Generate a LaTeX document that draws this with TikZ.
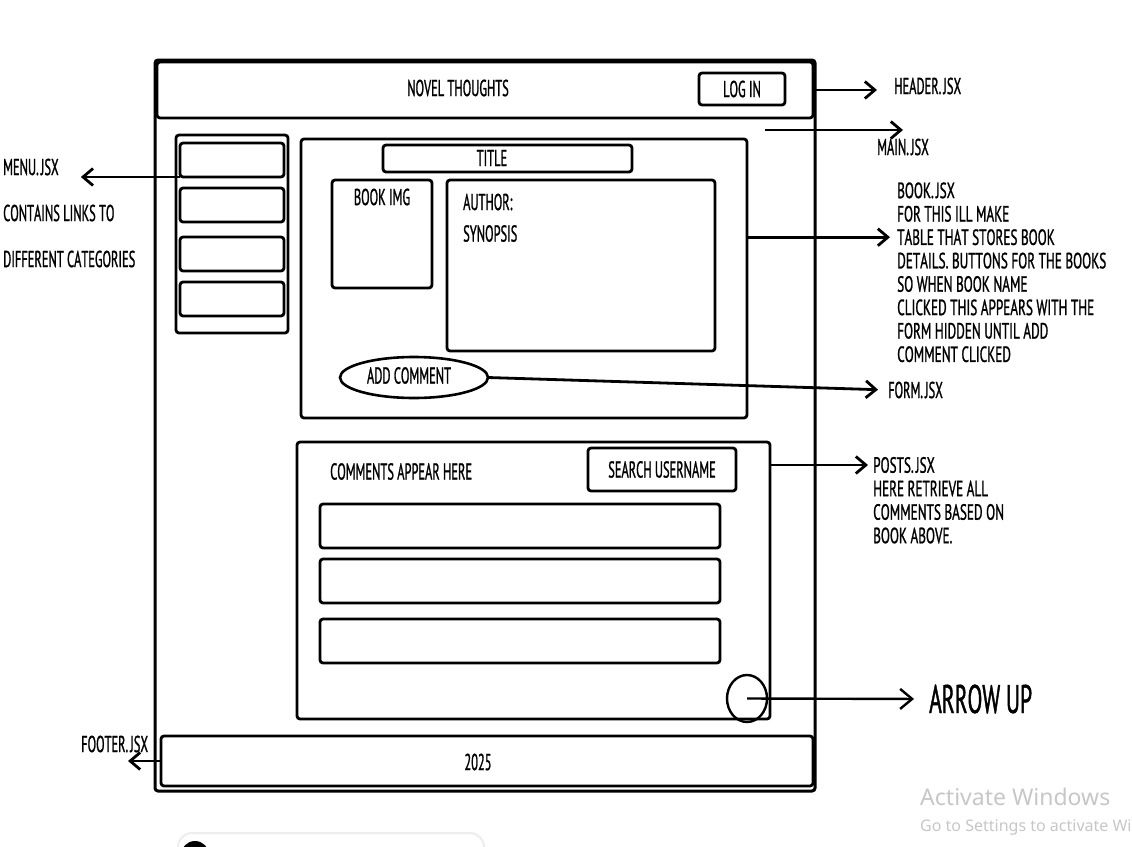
\documentclass[tikz,border=0pt]{standalone}
\usepackage{fontspec}
\newfontfamily\hand[FakeStretch=0.54,FakeBold=1,Kerning=Off]{PT Sans}
\newfontfamily\handw[FakeStretch=0.6,FakeBold=1,Kerning=Off]{PT Sans}
\newfontfamily\winfont{Noto Sans}
\usetikzlibrary{arrows.meta,shapes.geometric}
\tikzset{wh/.style 2 args={minimum width=#1,minimum height=#2}}
\newcommand{\jsx}[1]{#1.\kern2pt JSX}
\begin{document}
\begin{tikzpicture}[x=1pt,y=-1pt,
	box/.style={draw,line width=2.8pt,rounded corners=3pt,inner sep=0pt,outer sep=0pt},
	oval/.style={draw,ellipse,line width=2.6pt,inner sep=0pt,outer sep=0pt},
	txt/.style={font=\hand\fontsize{23}{26}\selectfont,inner sep=0pt},
	note/.style={font=\handw\fontsize{22}{25}\selectfont,inner sep=0pt,anchor=west},
	arr/.style={line width=2.8pt,-{Straight Barb[length=10pt,width=17pt]}}]
	\begin{scope}
	\clip (0,0) rectangle (1132,846);
	\fill[white] (0,0) rectangle (1132,846);
	\draw[black!7,line width=2pt,fill=white,rounded corners=14pt] (178,833) rectangle (484,880);
	\fill (195,855) circle (14);
	\node[font=\winfont\fontsize{23}{27}\selectfont,text=black!22,anchor=west,inner sep=0pt] (act) at (920,797) {Activate Windows};
	\node[font=\winfont\fontsize{16}{19}\selectfont,text=black!22,anchor=west,inner sep=0pt] (goto) at (920,827) {Go to Settings to activate Windows.};
	\end{scope}
	\useasboundingbox (0,0) rectangle (1132,846);
	\node[box,wh={660pt}{731pt},line width=3pt] (frame) at (485,425.5) {};
	\node[box,wh={656pt}{56pt}] (header) at (485,90) {};
	\node[txt] (site) at (458,88) {NOVEL THOUGHTS};
	\node[box,txt,wh={86pt}{32pt}] (login) at (742,89) {LOG IN};
	\node[box,wh={112pt}{198pt}] (menu) at (232,234) {};
	\foreach \y [count=\i] in {160,205,254,299}
		\node[box,wh={104pt}{34pt}] (m\i) at (232,\y) {};
	\node[box,wh={446pt}{279pt}] (book) at (524,278.5) {};
	\node[box,wh={249pt}{27pt}] (title) at (507.5,158.5) {};
	\node[txt] (titletxt) at (492,158) {TITLE};
	\node[box,wh={100pt}{108pt}] (img) at (382,234) {};
	\node[txt] (imgtxt) at (382,197) {BOOK IMG};
	\node[box,wh={268pt}{171pt}] (details) at (581,265.5) {};
	\node[txt,anchor=west] (author) at (463,202) {AUTHOR:};
	\node[txt,anchor=west] (synopsis) at (463,233.5) {SYNOPSIS};
	\node[oval,wh={148pt}{41pt}] (addc) at (414,377.5) {};
	\node[txt] (addtxt) at (409,375.5) {ADD COMMENT};
	\node[box,wh={473pt}{277pt}] (posts) at (533.5,580.5) {};
	\node[txt,anchor=west] (cmtxt) at (330,471.5) {COMMENTS APPEAR HERE};
	\node[box,txt,wh={148pt}{43pt}] (search) at (662,469.5) {SEARCH USERNAME};
	\foreach \y [count=\i] in {526,581,641}
		\node[box,wh={400pt}{44pt}] (c\i) at (520,\y) {};
	\node[oval,wh={40pt}{47pt},line width=2.4pt] (upbtn) at (747,698.5) {};
	\node[box,wh={652pt}{50pt}] (footer) at (487,761) {};
	\node[txt] (year) at (478,762) {2025};
	\node[txt,anchor=west] (hdrlbl) at (894,86) {\jsx{HEADER}};
	\node[txt,anchor=west] (mainlbl) at (877,147) {\jsx{MAIN}};
	\foreach \t [count=\i] in {\jsx{BOOK},FOR THIS ILL MAKE,TABLE THAT STORES BOOK,DETAILS. BUTTONS FOR THE BOOKS,SO WHEN BOOK NAME,CLICKED THIS APPEARS WITH THE,FORM HIDDEN UNTIL ADD,COMMENT CLICKED}
		\node[note] (bk\i) at (897,{167+23.4*\i}) {\t};
	\node[txt,anchor=west] (formlbl) at (888,390) {\jsx{FORM}};
	\foreach \t [count=\i] in {\jsx{POSTS},HERE RETRIEVE ALL,COMMENTS BASED ON,BOOK ABOVE.}
		\node[note] (ps\i) at (873,{441.5+23.5*\i}) {\t};
	\node[txt,font=\hand\fontsize{40}{44}\selectfont,anchor=west] (uplbl) at (929,699) {ARROW UP};
	\foreach \t/\y [count=\i] in {\jsx{MENU}/167,CONTAINS LINKS TO/213,DIFFERENT CATEGORIES/259}
		\node[txt,anchor=west] (mn\i) at (3,\y) {\t};
	\node[txt,anchor=west] (ftlbl) at (81,744) {\jsx{FOOTER}};
	\coordinate (mainpt) at (765,130);
	\coordinate (fttip) at (128,761);
	\draw[arr,shorten >=17pt] (header.east) -- (header.east -| hdrlbl.west);
	\draw[arr] (mainpt) -- (mainpt -| mainlbl.north);
	\draw[arr,shorten >=22pt] (m1.south west) -- (m1.south west -| mn1.east);
	\draw[arr,shorten >=7pt] (book.east |- bk3) -- (bk3.west);
	\draw[arr,shorten >=10pt] (addc.east) -- (formlbl.west);
	\draw[arr,shorten >=5pt] (posts.east |- ps1) -- (ps1.west);
	\draw[arr,line width=2.4pt,-{Straight Barb[length=12pt,width=20pt]},shorten >=15pt] (upbtn.center) -- (uplbl.west);
	\draw[arr] (footer.west) -- (fttip);
\end{tikzpicture}
\end{document}
